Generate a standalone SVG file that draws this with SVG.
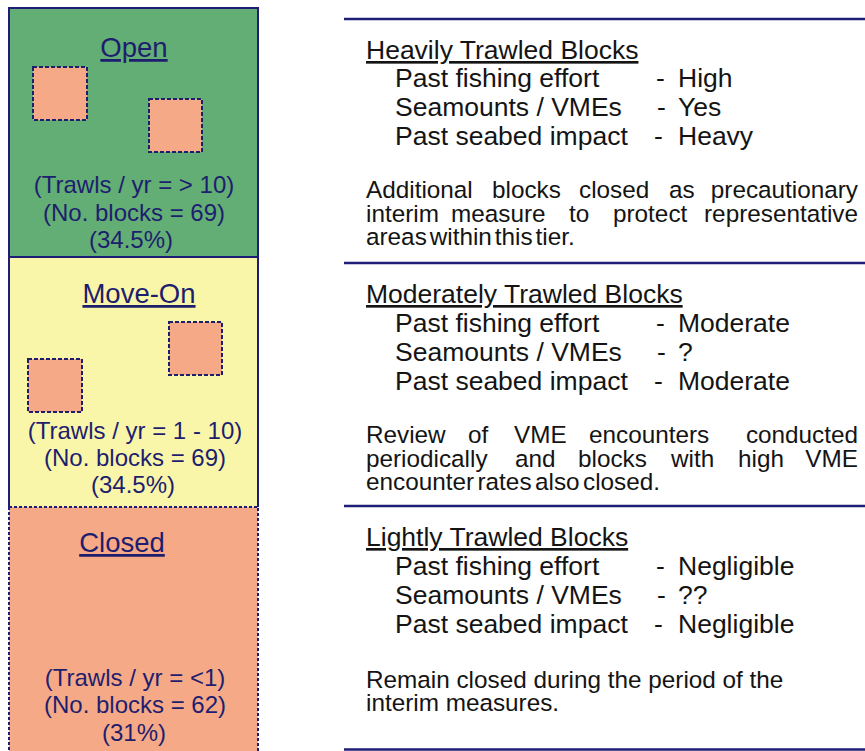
<svg xmlns="http://www.w3.org/2000/svg" width="865" height="751" viewBox="0 0 865 751">
<style>
.lbl{font-family:"Liberation Sans",Arial,sans-serif;fill:#1e1e6e;font-size:24px;text-anchor:middle}
.ttl{font-family:"Liberation Sans",Arial,sans-serif;fill:#1e1e6e;font-size:27.5px;text-anchor:middle;text-decoration:underline}
.rt{font-family:"Liberation Sans",Arial,sans-serif;fill:#141414;font-size:26.5px}
.rh{text-decoration:underline}
.pp{font-family:"Liberation Sans",Arial,sans-serif;fill:#141414;font-size:24.3px}
.end{text-anchor:end}
.blk{fill:#f6a987;stroke:#1e1e6e;stroke-width:2;stroke-dasharray:4 2}
.sep{stroke:#1e1e78;stroke-width:2.5;fill:none}
</style>
<rect width="865" height="751" fill="#ffffff"/>
<g id="open">
<rect x="9" y="8" width="249" height="249" fill="#62ae74" stroke="#1e1e78" stroke-width="2"/>
<text class="ttl" x="134" y="57">Open</text>
<rect class="blk" x="33" y="67" width="54" height="53"/>
<rect class="blk" x="149" y="99" width="53" height="53"/>
<text class="lbl" x="134" y="193">(Trawls / yr = &gt; 10)</text>
<text class="lbl" x="134" y="221">(No. blocks = 69)</text>
<text class="lbl" x="131" y="248">(34.5%)</text>
</g>
<g id="moveon">
<rect x="9" y="257" width="249" height="250" fill="#f9f6aa"/>
<path d="M9,507 V257 H258 V507" fill="none" stroke="#1e1e78" stroke-width="2"/>
<text class="ttl" x="139" y="303">Move-On</text>
<rect class="blk" x="169" y="322" width="53" height="53"/>
<rect class="blk" x="28" y="359" width="54" height="53"/>
<text class="lbl" x="135" y="439">(Trawls / yr = 1 - 10)</text>
<text class="lbl" x="135" y="466">(No. blocks = 69)</text>
<text class="lbl" x="133" y="493">(34.5%)</text>
</g>
<g id="closed">
<rect x="9" y="507" width="249" height="250" fill="#f6a987" stroke="#1e1e78" stroke-width="2" stroke-dasharray="3 2"/>
<text class="ttl" x="122" y="552">Closed</text>
<text class="lbl" x="135" y="686">(Trawls / yr = &lt;1)</text>
<text class="lbl" x="135" y="713">(No. blocks = 62)</text>
<text class="lbl" x="134" y="741">(31%)</text>
</g>
<g id="connectors">
<line class="sep" x1="344" y1="19" x2="865" y2="19"/>
<line class="sep" x1="344" y1="263" x2="865" y2="263"/>
<line class="sep" x1="344" y1="506" x2="865" y2="506"/>
<line class="sep" x1="344" y1="749.5" x2="865" y2="749.5"/>
</g>
<g id="heavy">
<text class="rt rh" x="366" y="59">Heavily Trawled Blocks</text>
<text class="rt" x="395" y="87">Past fishing effort</text><text class="rt" x="656" y="87">-</text><text class="rt" x="678" y="87">High</text>
<text class="rt" x="395" y="116">Seamounts / VMEs</text><text class="rt" x="657" y="116">-</text><text class="rt" x="678" y="116">Yes</text>
<text class="rt" x="395" y="145">Past seabed impact</text><text class="rt" x="654" y="145">-</text><text class="rt" x="678" y="145">Heavy</text>
<text class="pp" y="198"><tspan x="366">Additional</tspan><tspan x="492">blocks</tspan><tspan x="579">closed</tspan><tspan x="669">as</tspan></text>
<text class="pp end" x="858" y="198">precautionary</text>
<text class="pp" y="222"><tspan x="366">interim</tspan><tspan x="451">measure</tspan><tspan x="569">to</tspan><tspan x="613">protect</tspan></text>
<text class="pp end" x="858" y="222">representative</text>
<text class="pp" x="366" y="245" word-spacing="-3.8">areas within this tier.</text>
</g>
<g id="moderate">
<text class="rt rh" x="366" y="303">Moderately Trawled Blocks</text>
<text class="rt" x="395" y="332">Past fishing effort</text><text class="rt" x="656" y="332">-</text><text class="rt" x="678" y="332">Moderate</text>
<text class="rt" x="395" y="361">Seamounts / VMEs</text><text class="rt" x="657" y="361">-</text><text class="rt" x="678" y="361">?</text>
<text class="rt" x="395" y="390">Past seabed impact</text><text class="rt" x="654" y="390">-</text><text class="rt" x="678" y="390">Moderate</text>
<text class="pp" y="443"><tspan x="366">Review</tspan><tspan x="468">of</tspan><tspan x="514">VME</tspan><tspan x="589">encounters</tspan></text>
<text class="pp end" x="858" y="443">conducted</text>
<text class="pp" y="467"><tspan x="366">periodically</tspan><tspan x="515">and</tspan><tspan x="578">blocks</tspan><tspan x="671">with</tspan><tspan x="738">high</tspan></text>
<text class="pp end" x="858" y="467">VME</text>
<text class="pp" x="366" y="490" word-spacing="-3.3">encounter rates also closed.</text>
</g>
<g id="light">
<text class="rt rh" x="366" y="546">Lightly Trawled Blocks</text>
<text class="rt" x="395" y="575">Past fishing effort</text><text class="rt" x="656" y="575">-</text><text class="rt" x="678" y="575">Negligible</text>
<text class="rt" x="395" y="604">Seamounts / VMEs</text><text class="rt" x="657" y="604">-</text><text class="rt" x="678" y="604">??</text>
<text class="rt" x="395" y="633">Past seabed impact</text><text class="rt" x="654" y="633">-</text><text class="rt" x="678" y="633">Negligible</text>
<text class="pp" x="366" y="688">Remain closed during the period of the</text>
<text class="pp" x="366" y="711">interim measures.</text>
</g>
</svg>
